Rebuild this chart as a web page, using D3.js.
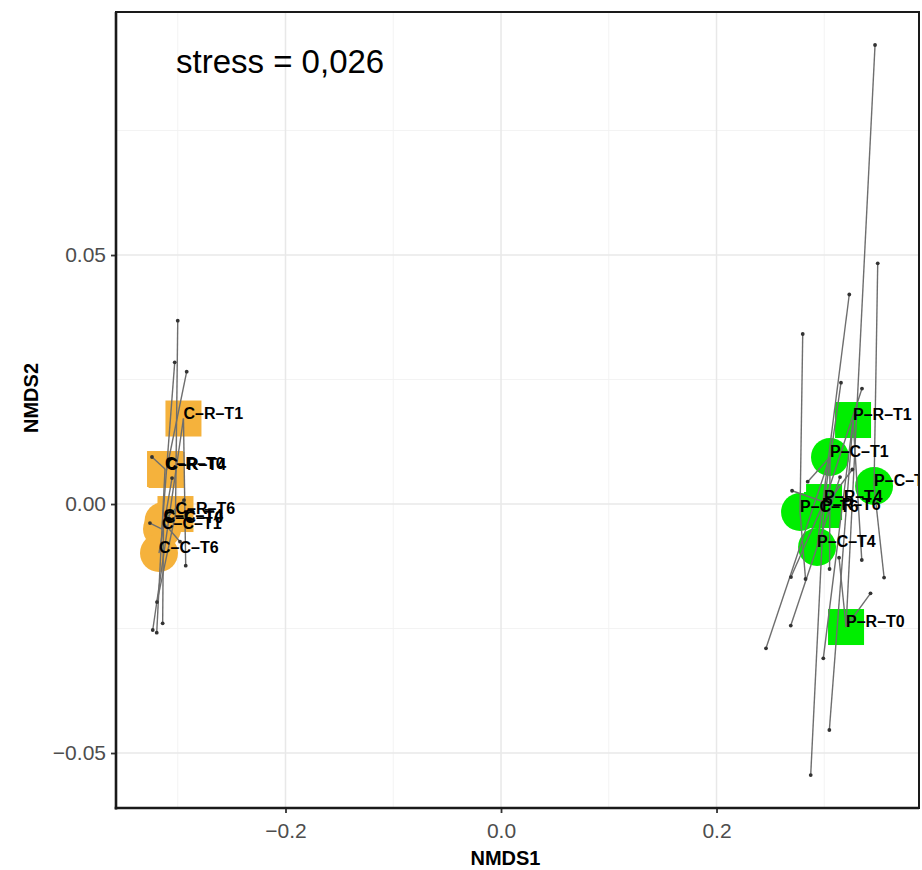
<!DOCTYPE html>
<html>
<head>
<meta charset="utf-8">
<script src="https://cdn.jsdelivr.net/npm/d3@7"></script>
<style>
  html, body { margin: 0; padding: 0; background: #fff; }
  svg { display: block; font-family: "Liberation Sans", Arial, sans-serif; }
</style>
</head>
<body>
<svg id="chart" width="922" height="870"></svg>
<script>
// NMDS ordination: group markers, replicate spider segments, stress annotation

// Group markers (centroids)
const groupNames = ["C-R-T0", "C-R-T1", "C-R-T4", "C-R-T6", "C-C-T0", "C-C-T1", "C-C-T4", "C-C-T6",
                    "P-R-T0", "P-R-T1", "P-R-T4", "P-R-T6", "P-C-T0", "P-C-T1", "P-C-T4", "P-C-T6"];
const groupNMDS1 = [-0.3118, -0.2947, -0.3104, -0.3021, -0.3128, -0.3146, -0.3132, -0.3174,
                     0.3202,  0.3267,  0.2998,  0.2979,  0.3462,  0.3053,  0.2933,  0.2775];
const groupNMDS2 = [ 0.00703, 0.01717, 0.00683, -0.00201, -0.00382, -0.00502, -0.00341, -0.00984,
                    -0.02470, 0.01687, 0.00040, -0.00120,  0.00361,  0.00944, -0.00863, -0.00161];
const groupSite  = ["C","C","C","C","C","C","C","C","P","P","P","P","P","P","P","P"];
const groupShape = ["square","square","square","square","circle","circle","circle","circle",
                    "square","square","square","square","circle","circle","circle","circle"];

// Replicate samples, each joined to its group marker
const repGroup = ["C-R-T6", "C-C-T1", "C-R-T4", "C-R-T1", "C-R-T0", "C-C-T4", "C-R-T1", "C-C-T0",
                  "C-R-T0", "C-C-T1", "C-C-T4", "C-C-T6", "C-R-T6",
                  "P-R-T0", "P-C-T0", "P-C-T4", "P-C-T6", "P-R-T4", "P-R-T6", "P-C-T1", "P-R-T4",
                  "P-C-T4", "P-R-T6", "P-R-T4", "P-C-T6", "P-C-T1", "P-R-T0", "P-R-T1", "P-C-T0",
                  "P-R-T0", "P-C-T4", "P-C-T1", "P-R-T1", "P-R-T1", "P-R-T4"];
const repNMDS1 = [-0.3000, -0.3028, -0.2917, -0.3232, -0.3195, -0.3140, -0.2926, -0.2979,
                  -0.3239, -0.3258, -0.2942, -0.3053, -0.3193,
                   0.3471,  0.3496,  0.3232,  0.2800,  0.3155,  0.3350,  0.2846,  0.2701,
                   0.3146,  0.3260,  0.2691,  0.2826,  0.3049,  0.3137,  0.3348,  0.3555,
                   0.3429,  0.2689,  0.2459,  0.2991,  0.3047,  0.2874];
const repNMDS2 = [ 0.03681,  0.02845,  0.02657, -0.02530, -0.02584, -0.02396, -0.01239, -0.00757,
                   0.00944, -0.00382,  0.00080,  0.00522, -0.01968,
                   0.09217,  0.04833,  0.04207,  0.03414,  0.02436,  0.02319,  0.00448,  0.00267,
                   0.00542,  0.00693, -0.01466, -0.01506, -0.01305, -0.01078, -0.01124, -0.01476,
                  -0.01793, -0.02440, -0.02898, -0.03098, -0.04538, -0.05442];

// Axis ticks
const xTicks = [-0.2, 0.0, 0.2];
const xMinor = [-0.3, -0.1, 0.1, 0.3];
const yTicks = [0.05, 0.00, -0.05];
const yMinor = [0.075, 0.025, -0.025];
const stressLabel = "stress = 0,026";
const siteColor = { C: "#F5B23C", P: "#00EE00" };

const svg = d3.select("#chart");
const panel = { left: 116, right: 919, top: 12, bottom: 808 };

const x = d3.scaleLinear().domain([-0.3573, 0.3879]).range([panel.left, panel.right]);
const y = d3.scaleLinear().domain([0.0988, -0.06104]).range([panel.top, panel.bottom]);

svg.append("defs").append("clipPath").attr("id", "panel-clip")
  .append("rect")
  .attr("x", panel.left).attr("y", panel.top)
  .attr("width", panel.right - panel.left).attr("height", panel.bottom - panel.top);

// Grid
const grid = svg.append("g");
grid.selectAll("line.xminor").data(xMinor).join("line")
  .attr("x1", d => x(d)).attr("x2", d => x(d))
  .attr("y1", panel.top).attr("y2", panel.bottom)
  .attr("stroke", "#f2f2f2").attr("stroke-width", 0.9);
grid.selectAll("line.yminor").data(yMinor).join("line")
  .attr("y1", d => y(d)).attr("y2", d => y(d))
  .attr("x1", panel.left).attr("x2", panel.right)
  .attr("stroke", "#f2f2f2").attr("stroke-width", 0.9);
grid.selectAll("line.xmajor").data(xTicks).join("line")
  .attr("x1", d => x(d)).attr("x2", d => x(d))
  .attr("y1", panel.top).attr("y2", panel.bottom)
  .attr("stroke", "#e8e8e8").attr("stroke-width", 1.5);
grid.selectAll("line.ymajor").data(yTicks).join("line")
  .attr("y1", d => y(d)).attr("y2", d => y(d))
  .attr("x1", panel.left).attr("x2", panel.right)
  .attr("stroke", "#e8e8e8").attr("stroke-width", 1.5);

const plot = svg.append("g").attr("clip-path", "url(#panel-clip)");

const groups = groupNames.map((name, i) => ({
  name, x: groupNMDS1[i], y: groupNMDS2[i], site: groupSite[i], shape: groupShape[i]
}));
const groupByName = new Map(groups.map(g => [g.name, g]));
const reps = repGroup.map((g, i) => ({ group: groupByName.get(g), x: repNMDS1[i], y: repNMDS2[i] }));

// Group markers
const half = 18;
plot.selectAll("rect.marker").data(groups.filter(g => g.shape === "square")).join("rect")
  .attr("x", d => x(d.x) - half).attr("y", d => y(d.y) - half)
  .attr("width", half * 2).attr("height", half * 2)
  .attr("fill", d => siteColor[d.site]);
plot.selectAll("circle.marker").data(groups.filter(g => g.shape === "circle")).join("circle")
  .attr("cx", d => x(d.x)).attr("cy", d => y(d.y)).attr("r", 19)
  .attr("fill", d => siteColor[d.site]);

// Spider segments and replicate points
plot.selectAll("line.seg").data(reps).join("line")
  .attr("x1", d => x(d.x)).attr("y1", d => y(d.y))
  .attr("x2", d => x(d.group.x)).attr("y2", d => y(d.group.y))
  .attr("stroke", "#6e6e6e").attr("stroke-width", 1.4);
plot.selectAll("circle.rep").data(reps).join("circle")
  .attr("cx", d => x(d.x)).attr("cy", d => y(d.y)).attr("r", 1.9)
  .attr("fill", "#333");

// Group labels
plot.selectAll("text.lab").data(groups).join("text")
  .attr("x", d => x(d.x)).attr("y", d => y(d.y) - 4)
  .attr("dominant-baseline", "middle")
  .attr("font-size", 16).attr("font-weight", "bold").attr("fill", "#000")
  .text(d => d.name.replace(/-/g, "\u2013"));

// Stress annotation
svg.append("text")
  .attr("x", 176).attr("y", 73)
  .attr("font-size", 33).attr("fill", "#000")
  .text(stressLabel);

// Axes
const xAxis = svg.append("g").attr("transform", `translate(0,${panel.bottom})`)
  .call(d3.axisBottom(x).tickValues(xTicks).tickSize(5).tickPadding(10).tickFormat(d3.format(".1f")));
const yAxis = svg.append("g").attr("transform", `translate(${panel.left},0)`)
  .call(d3.axisLeft(y).tickValues(yTicks).tickSize(5).tickPadding(5).tickFormat(d3.format(".2f")));
[xAxis, yAxis].forEach(ax => {
  ax.select(".domain").remove();
  ax.selectAll(".tick line").attr("stroke", "#333").attr("stroke-width", 1.8);
  ax.selectAll(".tick text").attr("fill", "#4d4d4d").attr("font-size", 21)
    .attr("font-family", "\"Liberation Sans\", Arial, sans-serif");
});

// Panel border
svg.append("rect")
  .attr("x", panel.left).attr("y", panel.top)
  .attr("width", panel.right - panel.left).attr("height", panel.bottom - panel.top)
  .attr("fill", "none").attr("stroke", "#1a1a1a").attr("stroke-width", 2);
svg.append("line").attr("x1", panel.left).attr("x2", panel.left)
  .attr("y1", panel.top).attr("y2", panel.bottom + 1.5)
  .attr("stroke", "#1a1a1a").attr("stroke-width", 2.6);
svg.append("line").attr("x1", panel.left - 1.3).attr("x2", panel.right)
  .attr("y1", panel.bottom).attr("y2", panel.bottom)
  .attr("stroke", "#1a1a1a").attr("stroke-width", 2.6);

// Axis titles
svg.append("text")
  .attr("x", (panel.left + panel.right) / 2 - 12).attr("y", 865)
  .attr("text-anchor", "middle").attr("font-size", 20).attr("font-weight", "bold")
  .text("NMDS1");
svg.append("text")
  .attr("transform", `translate(38,398) rotate(-90)`)
  .attr("text-anchor", "middle").attr("font-size", 20).attr("font-weight", "bold")
  .text("NMDS2");
</script>
</body>
</html>
